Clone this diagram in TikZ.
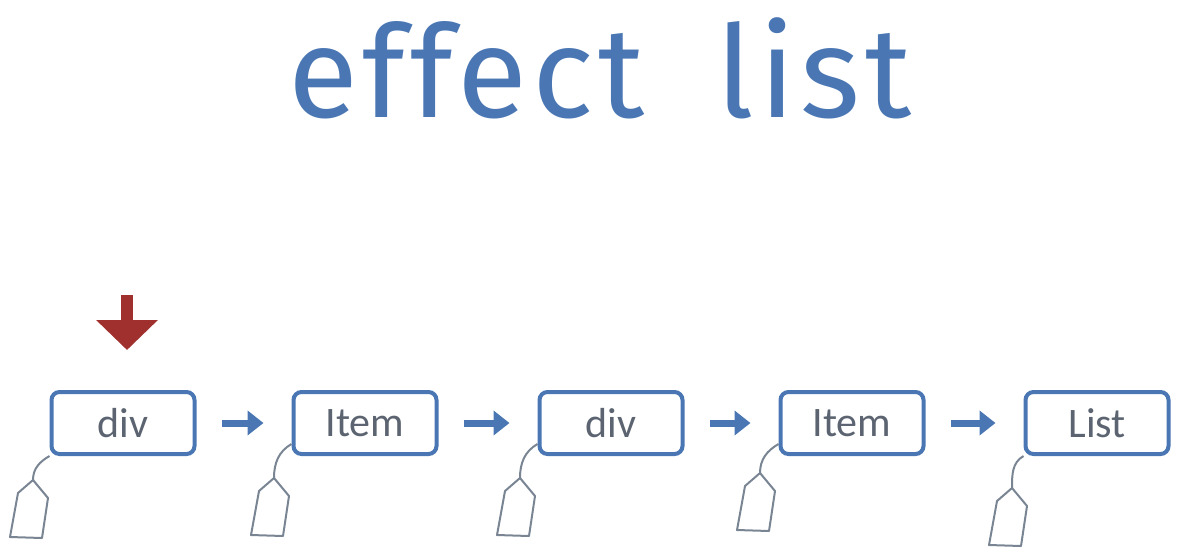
\documentclass[tikz,border=0pt]{standalone}
\usepackage{fontspec}
\setmainfont{Carlito}
\newfontfamily\titlefont[LetterSpace=4]{Fira Sans}
\usetikzlibrary{arrows.meta,positioning}
\definecolor{listblue}{HTML}{4A77B4}
\definecolor{labelgray}{HTML}{5B6470}
\definecolor{taggray}{HTML}{7A8594}
\definecolor{pointred}{HTML}{A0302E}
\tikzset{
  fiber/.style={draw=listblue, line width=2pt, rounded corners=4pt,
    minimum width=71.5pt, minimum height=31pt, text=labelgray,
    font=\fontsize{21}{24}\selectfont},
  nextfx/.style={draw=listblue, line width=3.5pt,
    -{Triangle[width=12pt,length=8pt]}, shorten <=12.5pt, shorten >=14pt},
  tagline/.style={draw=taggray, line width=1pt},
}
\newcommand{\pricetag}[1]{\draw[tagline, line join=round] (#1) -- ++(-15,-13)
  -- ++(-8,-44) -- ++(32,-1) -- ++(6,40) -- cycle;}

\begin{document}
\begin{tikzpicture}[x=0.5pt,y=0.5pt]
    \useasboundingbox (0,0) rectangle (1186,554);
    \node[anchor=base, text=listblue, font=\titlefont\fontsize{64}{72}\selectfont]
    (title) at (600,437) {effect\hspace{36pt}list};
    \node[fiber] (b1) at (123,131) {div}; \node[fiber] (b2) at (365,131)
    {Item}; \node[fiber] (b3) at (611,131) {div}; \node[fiber] (b4) at
    (852,131) {Item}; \node[fiber] (b5) at (1097,131) {List};
    \draw[nextfx] (b1.east) -- (b2.west); \draw[nextfx] (b2.east) --
    (b3.west); \draw[nextfx] (b3.east) -- (b4.west); \draw[nextfx]
    (b4.east) -- (b5.west);
    % current fiber
    \coordinate (cur) at (127,259);
    \draw[draw=pointred, line width=6pt, -{Triangle[width=30pt,length=15pt]},
    shorten >=20pt] (cur) -- (b1.north -| cur);
    % tags hanging off each fiber
    \coordinate (t1) at (33,74); \coordinate (t2) at (274,76);
    \coordinate (t3) at (520,76); \coordinate (t4) at (760,81);
    \coordinate (t5) at (1012,66);
    \draw[tagline] (b1.south west) to[out=210,in=90] (t1);
    \draw[tagline] ([yshift=6]b2.south west) to[out=210,in=90] (t2);
    \draw[tagline] ([yshift=6]b3.south west) to[out=210,in=90] (t3);
    \draw[tagline] ([yshift=6]b4.south west) to[out=210,in=90] (t4);
    \draw[tagline] (b5.south west) to[out=210,in=90] (t5);
    \pricetag{t1} \pricetag{t2} \pricetag{t3} \pricetag{t4} \pricetag{t5}
  \end{tikzpicture}
\end{document}
